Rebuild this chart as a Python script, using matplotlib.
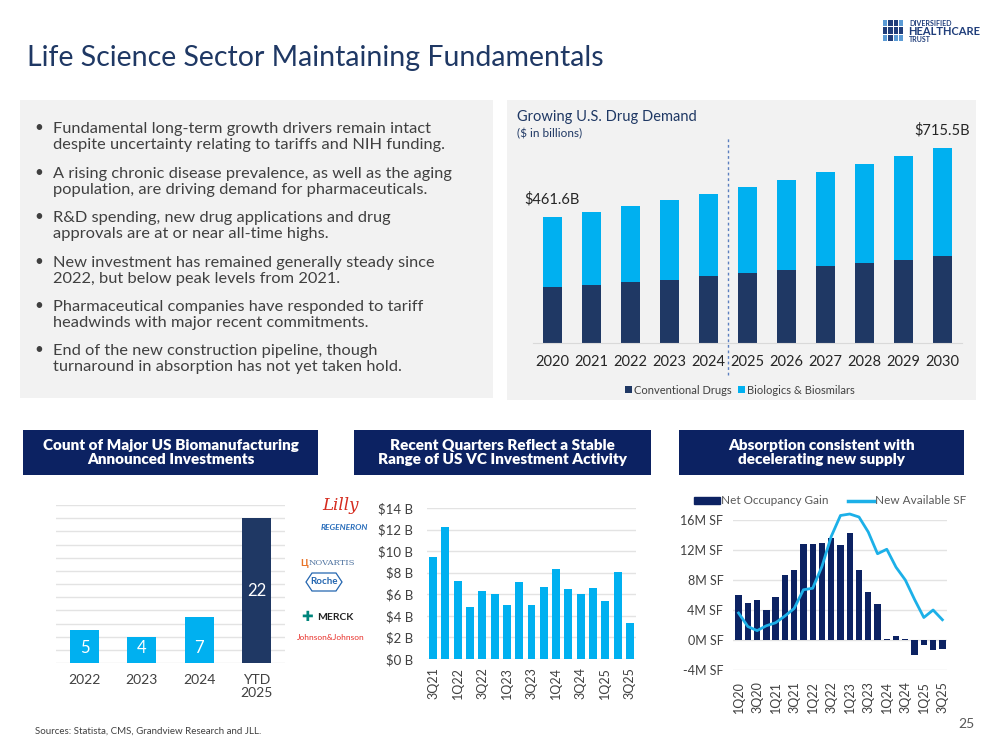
# life_science_slide.py

import numpy as np
import matplotlib
matplotlib.use('Agg')
import matplotlib.pyplot as plt
from matplotlib.patches import Rectangle, Polygon
from matplotlib.lines import Line2D

plt.rcParams['font.family'] = ['Lato', 'DejaVu Sans']


# data

drug_years = ['2020', '2021', '2022', '2023', '2024', '2025', '2026', '2027', '2028', '2029', '2030']
conventional_drugs = [204.5, 214.3, 222.8, 232.6, 244.9, 255.9, 266.9, 281.6, 292.6, 306.1, 318.3]
biologics = [257.1, 266.9, 279.2, 291.4, 302.4, 317.1, 333.1, 347.7, 366.1, 383.2, 397.2]

count_years = ['2022', '2023', '2024', 'YTD\n2025']
investment_counts = [5, 4, 7, 22]

vc_quarters = ['3Q21', '4Q21', '1Q22', '2Q22', '3Q22', '4Q22', '1Q23', '2Q23', '3Q23',
               '4Q23', '1Q24', '2Q24', '3Q24', '4Q24', '1Q25', '2Q25', '3Q25']
vc_investment = [9.5, 12.2, 7.2, 4.8, 6.3, 6.0, 5.0, 7.1, 5.0, 6.7, 8.3, 6.5, 6.0, 6.6, 5.4, 8.1, 3.3]

abs_quarters = ['1Q20', '2Q20', '3Q20', '4Q20', '1Q21', '2Q21', '3Q21', '4Q21', '1Q22', '2Q22',
                '3Q22', '4Q22', '1Q23', '2Q23', '3Q23', '4Q23', '1Q24', '2Q24', '3Q24', '4Q24',
                '1Q25', '2Q25', '3Q25']
net_occupancy_gain = [6.0, 5.0, 5.3, 4.0, 5.8, 8.7, 9.3, 12.8, 12.8, 12.9, 13.6, 12.7, 14.3,
                      9.4, 6.4, 4.8, 0.15, 0.6, 0.2, -2.0, -0.6, -1.3, -1.2]
new_available_sf = [3.6, 1.8, 1.25, 1.9, 2.3, 3.2, 4.2, 6.7, 6.9, 9.8, 13.8, 16.6, 16.8,
                    16.4, 14.4, 11.5, 12.1, 9.7, 8.0, 5.4, 3.0, 4.0, 2.7]

bullets = [
    'Fundamental long-term growth drivers remain intact\ndespite uncertainty relating to tariffs and NIH funding.',
    'A rising chronic disease prevalence, as well as the aging\npopulation, are driving demand for pharmaceuticals.',
    'R&D spending, new drug applications and drug\napprovals are at or near all-time highs.',
    'New investment has remained generally steady since\n2022, but below peak levels from 2021.',
    'Pharmaceutical companies have responded to tariff\nheadwinds with major recent commitments.',
    'End of the new construction pipeline, though\nturnaround in absorption has not yet taken hold.',
]

headers = [
    'Count of Major US Biomanufacturing\nAnnounced Investments',
    'Recent Quarters Reflect a Stable\nRange of US VC Investment Activity',
    'Absorption consistent with\ndecelerating new supply',
]


# colours

navy = '#1f3864'
header_navy = '#0c2262'
light_blue = '#00b0f0'
line_blue = '#1cb0e8'
text_grey = '#404040'
grid_grey = '#e3e3e3'
panel_grey = '#f2f2f2'


# pixel helpers (slide is 999 x 750)

W, H = 999, 750


def fx(x):
    return x / W


def fy(y):
    return 1 - y / H


def ax_rect(x0, y0, x1, y1):
    return [x0 / W, 1 - y1 / H, (x1 - x0) / W, (y1 - y0) / H]


def fig_rect(fig, x0, y0, x1, y1, colour):
    fig.add_artist(Rectangle((fx(x0), fy(y1)), (x1 - x0) / W, (y1 - y0) / H,
                             transform = fig.transFigure, color = colour, zorder = 0, lw = 0))


fig = plt.figure(figsize = (W / 100, H / 100), dpi = 100, facecolor = 'white')

# title and logo

fig.text(fx(27), fy(58), 'Life Science Sector Maintaining Fundamentals', fontsize = 20.5,
         color = navy, va = 'center', ha = 'left')

logo_cells = [
    (0, 0, '#5b9bd5'), (1, 0, '#1f3d7a'), (2, 0, '#1f3d7a'), (3, 0, '#5b9bd5'),
    (0, 1, '#1f3d7a'), (1, 1, '#1f3d7a'), (2, 1, '#1f3d7a'), (3, 1, '#1f3d7a'),
    (0, 2, '#5b9bd5'), (1, 2, '#1f3d7a'), (2, 2, '#5b9bd5'), (3, 2, '#5b9bd5'),
]
for cx, cy, c in logo_cells:
    fig_rect(fig, 883 + cx * 5.3, 20 + cy * 7.3, 883 + cx * 5.3 + 4.3, 20 + cy * 7.3 + 6.3, c)
fig.text(fx(909), fy(23), 'DIVERSIFIED', fontsize = 5, weight = 'bold', color = '#1f3d7a', va = 'center')
fig.text(fx(908), fy(31.5), 'HEALTHCARE', fontsize = 8, weight = 'bold', color = '#1f3d7a', va = 'center')
fig.text(fx(909), fy(40), 'TRUST', fontsize = 5, weight = 'bold', color = '#1f3d7a', va = 'center')

# bullet panel

fig_rect(fig, 20, 100, 493, 398, panel_grey)
bullet_y = [137, 182, 226, 271, 315, 359]
for text, y in zip(bullets, bullet_y):
    fig.text(fx(34), fy(y - 9), '\u2022', fontsize = 11, color = text_grey, va = 'center')
    fig.text(fx(53), fy(y), text, fontsize = 11.8, color = text_grey, va = 'center',
             linespacing = 1.14)

# drug demand panel

fig_rect(fig, 507, 100, 976, 400, panel_grey)
fig.text(fx(517), fy(117), 'Growing U.S. Drug Demand', fontsize = 10.5, color = navy, va = 'center')
fig.text(fx(517), fy(134), '($ in billions)', fontsize = 8.5, color = navy, va = 'center')

ax1 = fig.add_axes(ax_rect(533, 139, 962, 343))
ax1.patch.set_alpha(0)
x = np.arange(len(drug_years))
ax1.bar(x, conventional_drugs, width = 0.51, color = navy, label = 'Conventional Drugs')
ax1.bar(x, biologics, width = 0.51, bottom = conventional_drugs, color = light_blue,
        label = 'Biologics & Biosmilars')
ax1.set_xlim(-0.5, len(drug_years) - 0.5)
ax1.set_ylim(0, 750)
ax1.set_yticks([])
ax1.set_xticks(x)
ax1.set_xticklabels(drug_years, fontsize = 10.5, color = '#262626')
ax1.tick_params(axis = 'x', length = 0, pad = 9)
for s in ['top', 'right', 'left']:
    ax1.spines[s].set_visible(False)
ax1.spines['bottom'].set_color('#d9d9d9')
ax1.plot([4.5, 4.5], [-118, 755], linestyle = (0, (2, 2)), color = '#5b7fbf', lw = 1, clip_on = False)
total_first = conventional_drugs[0] + biologics[0]
total_last = conventional_drugs[-1] + biologics[-1]
ax1.text(0, total_first + 40, '$' + str(round(total_first, 1)) + 'B', ha = 'center', va = 'bottom',
         fontsize = 10.5, color = '#262626')
ax1.text(len(drug_years) - 1, total_last + 40, '$' + str(round(total_last, 1)) + 'B', ha = 'center',
         va = 'bottom', fontsize = 10.5, color = '#262626')
ax1.legend(loc = 'center', bbox_to_anchor = (fx(740), fy(390)), bbox_transform = fig.transFigure,
           ncol = 2, frameon = False, fontsize = 8, handlelength = 0.6, handleheight = 0.6,
           handletextpad = 0.2, columnspacing = 0.6, labelcolor = text_grey)

# header boxes

header_boxes = [(23, 318), (354, 651), (679, 964)]
for (x0, x1), text in zip(header_boxes, headers):
    fig_rect(fig, x0, 430, x1, 475, header_navy)
    fig.text(fx((x0 + x1) / 2), fy(452.5), text, fontsize = 11, weight = 'heavy', color = 'white',
             ha = 'center', va = 'center', linespacing = 1.1)

# count of investments

ax2 = fig.add_axes(ax_rect(56, 505, 285, 663))
x = np.arange(len(count_years))
bar_colours = [light_blue] * (len(count_years) - 1) + [navy]
ax2.bar(x, investment_counts, width = 0.51, color = bar_colours, zorder = 3)
for i, v in enumerate(investment_counts):
    ax2.text(i, v / 2 if v > 10 else 1.1, str(v), ha = 'center', va = 'bottom' if v <= 10 else 'center',
             color = 'white', fontsize = 12, zorder = 4)
ax2.set_xlim(-0.5, 3.5)
ax2.set_ylim(0, 24)
ax2.set_yticks(range(0, 25, 2))
ax2.set_yticklabels([])
ax2.set_xticks(x)
ax2.set_xticklabels(count_years, fontsize = 10, color = text_grey, linespacing = 1.1)
ax2.tick_params(length = 0)
ax2.tick_params(axis = 'x', pad = 8)
ax2.grid(axis = 'y', color = grid_grey, linewidth = 1, zorder = 0)
for s in ax2.spines.values():
    s.set_visible(False)

# company names beside the count chart

fig.text(fx(341), fy(505), 'Lilly', fontsize = 12, style = 'italic', family = 'DejaVu Serif',
         color = '#d52b1e', ha = 'center', va = 'center')
fig.text(fx(321), fy(527), 'REGENERON', fontsize = 6, style = 'italic', weight = 'bold',
         color = '#2a6ebb', va = 'center')
fig.text(fx(300), fy(563), '\u0426', fontsize = 7, color = '#e8742a', va = 'center', weight = 'bold')
fig.text(fx(309), fy(563), 'NOVARTIS', fontsize = 6, family = 'DejaVu Serif', color = '#4f73a0',
         va = 'center')
fig.add_artist(Polygon([(fx(306), fy(582)), (fx(312), fy(573)), (fx(336), fy(573)), (fx(342), fy(582)),
                        (fx(336), fy(591)), (fx(312), fy(591))], closed = True, fill = False,
                       edgecolor = '#2466b0', lw = 0.9, transform = fig.transFigure))
fig.text(fx(324), fy(582), 'Roche', fontsize = 7, color = '#2466b0', ha = 'center', va = 'center',
         weight = 'bold')
fig.text(fx(307), fy(617), '\u271a', fontsize = 10, color = '#00857c', ha = 'center', va = 'center',
         family = 'DejaVu Sans')
fig.text(fx(317), fy(617), 'MERCK', fontsize = 7.5, weight = 'bold', color = '#222222', va = 'center')
fig.text(fx(297), fy(637), 'Johnson&Johnson', fontsize = 6, color = '#e8302a', va = 'center')

# VC investment

ax3 = fig.add_axes(ax_rect(427, 508, 636, 659))
x = np.arange(len(vc_quarters))
ax3.bar(x, vc_investment, width = 0.65, color = light_blue, zorder = 3)
ax3.set_xlim(-0.5, len(vc_quarters) - 0.5)
ax3.set_ylim(0, 14)
ax3.set_yticks(range(0, 15, 2))
ax3.set_yticklabels(['$' + str(v) + ' B' for v in range(0, 15, 2)], fontsize = 9.5, color = text_grey)
ax3.set_xticks(x)
ax3.set_xticklabels([q if i % 2 == 0 else '' for i, q in enumerate(vc_quarters)], rotation = 90,
                    fontsize = 9, color = text_grey)
ax3.tick_params(length = 0)
ax3.tick_params(axis = 'y', pad = 10)
ax3.tick_params(axis = 'x', pad = 6)
ax3.grid(axis = 'y', color = grid_grey, linewidth = 1, zorder = 0)
for s in ax3.spines.values():
    s.set_visible(False)

# absorption vs new supply

ax4 = fig.add_axes(ax_rect(733, 520, 947, 670))
x = np.arange(len(abs_quarters))
ax4.bar(x, net_occupancy_gain, width = 0.68, color = header_navy, zorder = 3)
ax4.plot(x, new_available_sf, color = line_blue, lw = 2, zorder = 4, clip_on = False)
ax4.set_xlim(-0.6, len(abs_quarters) - 0.5)
ax4.set_ylim(-4, 16)
ax4.set_yticks(range(-4, 17, 4))
ax4.set_yticklabels([str(v) + 'M SF' for v in range(-4, 17, 4)], fontsize = 9, color = text_grey)
ax4.set_xticks(x)
ax4.set_xticklabels([q if i % 2 == 0 else '' for i, q in enumerate(abs_quarters)], rotation = 90,
                    fontsize = 9, color = text_grey)
ax4.tick_params(length = 0)
ax4.tick_params(axis = 'y', pad = 7)
ax4.tick_params(axis = 'x', pad = 8)
ax4.grid(axis = 'y', color = grid_grey, linewidth = 1, zorder = 0)
for s in ax4.spines.values():
    s.set_visible(False)
legend_handles = [Rectangle((0, 0), 1, 1, color = header_navy), Line2D([0], [0], color = line_blue, lw = 2.5)]
ax4.legend(legend_handles, ['Net Occupancy Gain', 'New Available SF'], loc = 'center',
           bbox_to_anchor = (fx(830), fy(501)), bbox_transform = fig.transFigure, ncol = 2,
           frameon = False, fontsize = 8.5, handlelength = 2.2, handleheight = 0.6,
           handletextpad = 0.1, columnspacing = 1.6, labelcolor = '#595959')

# footer

fig.text(fx(35), fy(731), 'Sources: Statista, CMS, Grandview Research and JLL.', fontsize = 7,
         color = text_grey, va = 'center')
fig.text(fx(975), fy(724), '25', fontsize = 10, color = '#595959', ha = 'right', va = 'center')

fig.savefig('out.png', dpi = 100, facecolor = 'white')
